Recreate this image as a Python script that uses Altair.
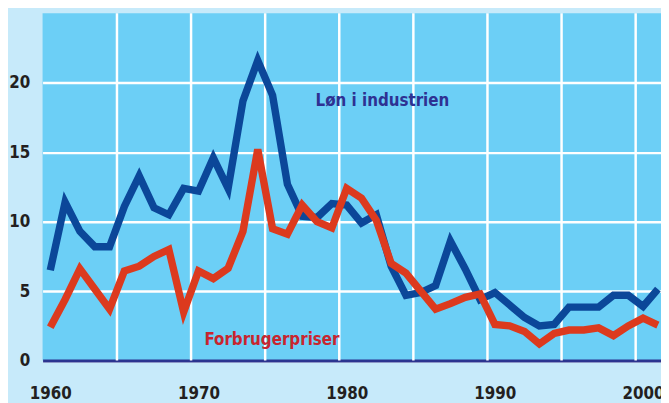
import altair as alt
import pandas as pd

years = list(range(1960, 2002))
lon = [6.5, 11.4, 9.3, 8.2, 8.2, 11.1, 13.3, 11.0, 10.5, 12.4,
       12.2, 14.6, 12.4, 18.7, 21.6, 19.1, 12.7, 10.4, 10.3, 11.3,
       11.2, 9.9, 10.5, 6.8, 4.7, 4.9, 5.4, 8.6, 6.6, 4.4,
       4.9, 4.0, 3.1, 2.5, 2.6, 3.85, 3.85, 3.85, 4.7, 4.7,
       3.9, 5.15]
priser = [2.4, 4.4, 6.6, 5.15, 3.7, 6.45, 6.8, 7.5, 8.0, 3.5,
          6.45, 5.9, 6.65, 9.3, 15.2, 9.5, 9.1, 11.2, 10.0, 9.55,
          12.4, 11.7, 10.1, 7.0, 6.3, 5.0, 3.7, 4.1, 4.55, 4.8,
          2.6, 2.5, 2.1, 1.2, 1.95, 2.2, 2.2, 2.35, 1.8, 2.5,
          3.05, 2.55]
series = ["Løn i industrien", "Forbrugerpriser"]
x_labels = [1960, 1970, 1980, 1990, 2000]
y_labels = [0, 5, 10, 15, 20]
grid_years = [1964.5, 1969.5, 1974.5, 1979.5, 1984.5, 1989.5, 1994.5, 1999.5]

ann_text = ["Løn i industrien", "Forbrugerpriser"]
ann_x = [1977.9, 1970.4]
ann_y = [18.67, 1.48]

df = pd.DataFrame({
    "year": years * 2,
    "value": lon + priser,
    "serie": [series[0]] * len(years) + [series[1]] * len(years),
})
grid_df = pd.DataFrame({"year": grid_years})
ann_df = pd.DataFrame({"t": ann_text, "year": ann_x, "value": ann_y, "serie": series})

FONT = "DejaVu Sans Condensed, Roboto, sans-serif"
xscale = alt.Scale(domain=[1959.48, 2001.21], nice=False, zero=False)
yscale = alt.Scale(domain=[0, 25], nice=False)

xaxis = alt.Axis(values=x_labels, format="d", grid=False, ticks=False, domain=True,
                 domainColor="#2b3590", domainWidth=3, labelFont=FONT, labelFontWeight="bold",
                 labelFontSize=17, labelColor="#231f20", labelPadding=25, title=None,
                 labelFlush=False, labelOverlap=False)
yaxis = alt.Axis(values=y_labels, grid=True, gridColor="white", gridWidth=2.5, gridOpacity=1,
                 ticks=False, domain=False, labelFont=FONT, labelFontWeight="bold",
                 labelFontSize=17, labelColor="#231f20", labelPadding=13, title=None)

X = alt.X("year:Q", scale=xscale, axis=xaxis)
Y = alt.Y("value:Q", scale=yscale, axis=yaxis)

vgrid = alt.Chart(grid_df).mark_rule(color="white", strokeWidth=2.5).encode(x=X)

blue = alt.Chart(df).transform_filter(alt.datum.serie == series[0]).mark_line(
    color="#0b4799", strokeWidth=7.5).encode(x=X, y=Y)
red = alt.Chart(df).transform_filter(alt.datum.serie == series[1]).mark_line(
    color="#dc3a1e", strokeWidth=7.5).encode(x=X, y=Y)

labels = alt.Chart(ann_df).mark_text(align="left", baseline="middle", font=FONT,
                                     fontWeight="bold", fontSize=17).encode(
    x=X, y=Y,
    text="t:N",
    color=alt.Color("serie:N", scale=alt.Scale(domain=series, range=["#2e3192", "#c9252e"]), legend=None),
)

chart = alt.layer(vgrid, blue, red, labels).properties(
    width=626, height=351.5,
    autosize=alt.AutoSizeParams(type="none"),
    padding={"left": 35, "top": 3, "right": 0, "bottom": 40},
    background="#c7eafa",
).configure_view(fill="#6ccff6", stroke=None)

chart.save("out.html", embed_options={"renderer": "svg", "actions": False})
